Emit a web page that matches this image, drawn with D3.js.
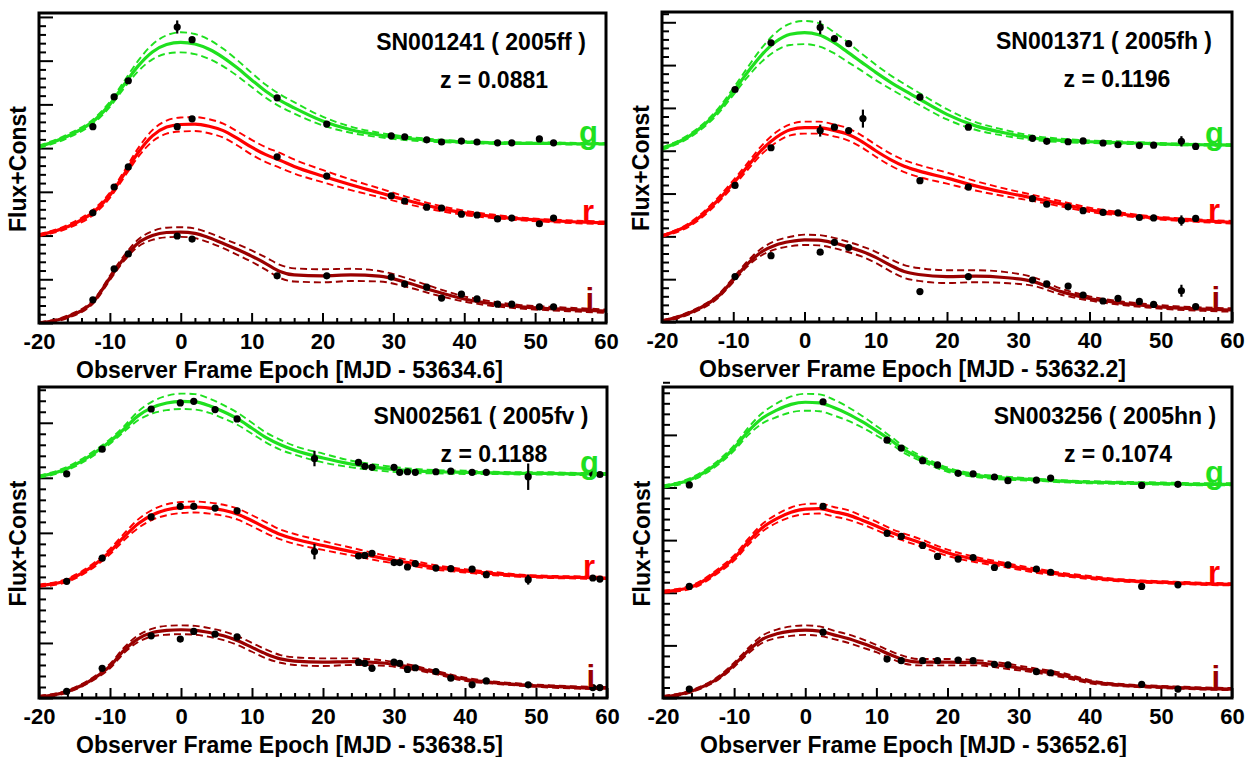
<!DOCTYPE html>
<html>
<head>
<meta charset="utf-8">
<script src="https://cdn.jsdelivr.net/npm/d3@7"></script>
<style>
  body { margin: 0; background: #fff; }
  text { font-family: "Liberation Sans", Arial, Helvetica, sans-serif; font-weight: bold; }
</style>
</head>
<body>
<div id="chart"></div>
<script>
// model curves are sampled on this grid of observer-frame days
var modelDays = [-20,-16,-12,-10,-8,-6,-4,-2,0,2,4,6,8,10,12,14,16,20,24,28,32,36,40,44,48,52,56,60];

var xMajorTicks = [-20,-10,0,10,20,30,40,50,60];

var snNames   = ["SN001241 ( 2005ff )", "SN001371 ( 2005fh )", "SN002561 ( 2005fv )", "SN003256 ( 2005hn )"];
var redshifts = ["z = 0.0881", "z = 0.1196", "z = 0.1188", "z = 0.1074"];
var mjdZero   = ["53634.6", "53632.2", "53638.5", "53652.6"];
var bandNames = ["g", "r", "i"];

// ---- SN001241 (top left)
var tlEpoch = [-12.4,-9.4,-7.4,-0.5,1.6,13.6,20.6,29.7,31.6,34.7,36.8,39.6,41.8,44.7,46.7,50.6,52.6];
var tlG     = [4.49,5.17,5.54,6.77,6.48,5.15,4.55,4.28,4.26,4.19,4.14,4.16,4.14,4.12,4.12,4.21,4.12];
var tlGErr  = [0.04,0.04,0.04,0.15,0.05,0.05,0.04,0.03,0.03,0.03,0.03,0.03,0.03,0.03,0.03,0.03,0.03];
var tlR     = [2.52,3.11,3.57,4.49,4.67,3.80,3.36,2.91,2.79,2.65,2.63,2.49,2.47,2.38,2.40,2.27,2.40];
var tlRErr  = [0.04,0.04,0.04,0.05,0.05,0.05,0.04,0.03,0.03,0.03,0.03,0.03,0.03,0.03,0.03,0.03,0.03];
var tlI     = [0.53,1.24,1.58,1.99,1.92,1.08,1.08,1.05,0.89,0.82,0.57,0.66,0.55,0.43,0.43,0.37,0.37];
var tlIErr  = [0.04,0.04,0.04,0.05,0.05,0.05,0.04,0.03,0.03,0.03,0.03,0.03,0.03,0.03,0.03,0.03,0.03];
var tlGFit  = [4.03,4.27,4.66,5.0,5.45,5.88,6.2,6.37,6.42,6.38,6.26,6.07,5.83,5.56,5.30,5.09,4.92,4.62,4.42,4.30,4.22,4.17,4.14,4.12,4.11,4.11,4.10,4.10];
var tlGBand = [0.03,0.04,0.05,0.06,0.08,0.12,0.17,0.21,0.23,0.23,0.22,0.2,0.18,0.16,0.15,0.14,0.13,0.1,0.07,0.05,0.04,0.03,0.02,0.02,0.02,0.02,0.02,0.02];
var tlRFit  = [2.01,2.2,2.58,2.92,3.4,3.9,4.28,4.48,4.54,4.55,4.5,4.4,4.22,4.02,3.85,3.72,3.58,3.36,3.16,2.98,2.8,2.64,2.52,2.44,2.38,2.34,2.31,2.29];
var tlRBand = [0.02,0.04,0.06,0.06,0.07,0.1,0.13,0.15,0.16,0.16,0.16,0.16,0.16,0.17,0.17,0.17,0.16,0.14,0.12,0.1,0.08,0.06,0.05,0.04,0.03,0.03,0.03,0.03];
var tlIFit  = [0.0,0.14,0.55,1.03,1.48,1.83,2.0,2.07,2.08,2.05,1.95,1.82,1.68,1.53,1.36,1.18,1.1,1.08,1.1,1.07,0.92,0.72,0.55,0.44,0.37,0.33,0.3,0.27];
var tlIBand = [0.02,0.03,0.04,0.05,0.06,0.08,0.1,0.11,0.11,0.11,0.11,0.11,0.12,0.13,0.14,0.15,0.15,0.15,0.14,0.12,0.1,0.08,0.06,0.05,0.04,0.04,0.04,0.04];

// ---- SN001371 (top right)
var trEpoch = [-9.75,-4.7,2.2,4.2,6.2,8.2,16.2,23.0,32.0,34.0,37.0,39.1,41.9,44.0,47.0,49.0,52.9,54.9];
var trG     = [5.43,6.52,6.88,6.62,6.50,null,5.25,4.55,4.29,4.22,4.21,4.23,4.18,4.14,4.12,4.13,4.22,4.10];
var trGErr  = [0.04,0.05,0.16,0.05,0.05,null,0.04,0.03,0.03,0.03,0.03,0.03,0.03,0.03,0.03,0.03,0.12,0.03];
var trR     = [3.19,4.07,4.47,4.55,4.47,4.75,3.30,3.15,2.88,2.75,2.69,2.60,2.56,2.55,2.44,2.43,2.37,2.42];
var trRErr  = [0.04,0.04,0.14,0.04,0.04,0.21,0.04,0.03,0.03,0.03,0.03,0.03,0.03,0.03,0.03,0.03,0.12,0.03];
var trI     = [1.06,1.55,1.63,1.86,1.74,null,0.71,1.06,0.98,0.89,0.84,0.63,0.49,0.55,0.48,0.41,0.73,0.36];
var trIErr  = [0.04,0.04,0.04,0.04,0.04,null,0.04,0.03,0.03,0.03,0.03,0.03,0.03,0.03,0.03,0.03,0.14,0.03];
var trGFit  = [4.05,4.36,4.95,5.38,5.83,6.24,6.55,6.72,6.76,6.71,6.54,6.31,6.07,5.83,5.61,5.41,5.22,4.85,4.58,4.42,4.3,4.24,4.21,4.19,4.17,4.15,4.14,4.13];
var trGBand = [0.03,0.04,0.06,0.08,0.11,0.16,0.21,0.25,0.27,0.27,0.25,0.23,0.2,0.18,0.16,0.15,0.14,0.12,0.09,0.07,0.05,0.04,0.03,0.03,0.02,0.02,0.02,0.02];
var trRFit  = [2.01,2.29,2.87,3.24,3.63,4.02,4.31,4.49,4.54,4.54,4.48,4.39,4.22,4.0,3.8,3.64,3.53,3.36,3.18,3.03,2.9,2.76,2.62,2.53,2.45,2.4,2.36,2.33];
var trRBand = [0.02,0.04,0.06,0.07,0.08,0.1,0.12,0.13,0.14,0.14,0.14,0.14,0.14,0.14,0.14,0.14,0.14,0.13,0.11,0.09,0.07,0.06,0.05,0.04,0.03,0.03,0.03,0.03];
var trIFit  = [0.02,0.22,0.62,0.98,1.36,1.64,1.8,1.88,1.92,1.91,1.85,1.76,1.65,1.51,1.33,1.18,1.11,1.06,1.07,1.04,0.95,0.71,0.55,0.45,0.38,0.33,0.3,0.28];
var trIBand = [0.02,0.03,0.04,0.05,0.06,0.08,0.1,0.11,0.12,0.12,0.12,0.12,0.12,0.13,0.14,0.15,0.15,0.15,0.14,0.13,0.1,0.07,0.05,0.04,0.04,0.04,0.04,0.04];

// ---- SN002561 (bottom left)
var blEpoch = [-16.1,-11.1,-4.2,-0.1,1.8,4.8,7.9,18.8,25.0,25.9,26.9,30.0,30.8,31.9,33.0,35.9,38.0,41.0,43.0,48.9,58.0,59.0];
var blG     = [4.07,4.52,5.25,5.36,5.39,5.24,5.07,4.35,4.28,4.21,4.19,4.19,4.10,4.11,4.10,4.11,4.12,4.10,4.10,4.02,4.07,4.06];
var blGErr  = [0.03,0.03,0.03,0.03,0.03,0.03,0.03,0.14,0.03,0.03,0.03,0.03,0.03,0.03,0.03,0.03,0.03,0.03,0.03,0.24,0.03,0.03];
var blR     = [2.12,2.54,3.29,3.48,3.48,3.45,3.40,2.66,2.58,2.59,2.63,2.46,2.46,2.38,2.44,2.36,2.35,2.34,2.24,2.15,2.18,2.16];
var blRErr  = [0.03,0.03,0.03,0.03,0.03,0.03,0.03,0.14,0.03,0.03,0.03,0.03,0.03,0.03,0.03,0.03,0.03,0.03,0.03,0.09,0.03,0.03];
var blI     = [0.12,0.54,1.13,1.07,1.21,1.16,1.11,null,0.65,0.63,0.54,0.65,0.63,0.52,0.55,0.48,0.36,0.24,0.31,0.24,0.19,0.19];
var blIErr  = [0.03,0.03,0.03,0.03,0.03,0.03,0.03,null,0.03,0.03,0.03,0.03,0.03,0.03,0.03,0.03,0.03,0.03,0.03,0.03,0.03,0.03];
var blGFit  = [4.02,4.17,4.47,4.66,4.89,5.13,5.28,5.36,5.39,5.38,5.31,5.2,5.07,4.9,4.73,4.6,4.5,4.36,4.25,4.18,4.13,4.11,4.1,4.09,4.08,4.08,4.07,4.07];
var blGBand = [0.02,0.03,0.04,0.04,0.05,0.08,0.11,0.13,0.14,0.14,0.13,0.12,0.11,0.1,0.09,0.09,0.08,0.08,0.06,0.05,0.04,0.03,0.03,0.02,0.02,0.02,0.02,0.02];
var blRFit  = [2.04,2.14,2.44,2.66,2.93,3.17,3.33,3.42,3.46,3.47,3.45,3.41,3.34,3.22,3.09,2.97,2.89,2.77,2.66,2.55,2.46,2.37,2.31,2.26,2.22,2.2,2.19,2.18];
var blRBand = [0.02,0.03,0.04,0.05,0.06,0.08,0.09,0.1,0.1,0.1,0.1,0.1,0.1,0.1,0.1,0.09,0.09,0.08,0.07,0.06,0.05,0.04,0.03,0.03,0.02,0.02,0.02,0.02];
var blIFit  = [0.02,0.12,0.38,0.58,0.87,1.08,1.19,1.23,1.24,1.23,1.19,1.13,1.04,0.92,0.8,0.71,0.67,0.65,0.66,0.64,0.57,0.46,0.34,0.28,0.24,0.21,0.19,0.18];
var blIBand = [0.02,0.02,0.03,0.04,0.05,0.06,0.07,0.08,0.08,0.08,0.08,0.08,0.08,0.08,0.08,0.07,0.07,0.07,0.06,0.05,0.04,0.03,0.03,0.02,0.02,0.02,0.02,0.02];

// ---- SN003256 (bottom right)
var brEpoch = [-16.3,2.5,11.5,13.5,16.5,18.6,21.5,23.6,26.6,28.5,32.5,34.5,47.3,52.4];
var brG     = [4.05,5.63,4.90,4.75,4.51,4.43,4.27,4.26,4.20,4.13,4.14,4.18,4.04,4.06];
var brGErr  = [0.03,0.03,0.03,0.03,0.03,0.03,0.03,0.03,0.03,0.03,0.03,0.03,0.03,0.03];
var brR     = [2.12,3.64,3.13,3.07,2.90,2.69,2.64,2.67,2.48,2.53,2.45,2.39,2.12,2.15];
var brRErr  = [0.03,0.03,0.03,0.03,0.03,0.03,0.03,0.03,0.03,0.03,0.03,0.03,0.03,0.03];
var brI     = [0.17,1.25,0.74,0.71,0.71,0.71,0.72,0.71,0.64,0.63,0.50,0.48,0.26,0.17];
var brIErr  = [0.03,0.03,0.03,0.03,0.03,0.03,0.03,0.03,0.03,0.03,0.03,0.03,0.03,0.03];
var brGFit  = [4.02,4.16,4.5,4.75,5.07,5.32,5.47,5.58,5.62,5.61,5.52,5.4,5.25,5.08,4.9,4.71,4.57,4.34,4.23,4.18,4.15,4.12,4.1,4.09,4.08,4.07,4.06,4.06];
var brGBand = [0.02,0.03,0.04,0.05,0.07,0.1,0.13,0.15,0.16,0.16,0.15,0.13,0.11,0.09,0.07,0.06,0.05,0.04,0.03,0.03,0.02,0.02,0.02,0.02,0.02,0.02,0.02,0.02];
var brRFit  = [2.02,2.11,2.44,2.66,2.97,3.24,3.41,3.53,3.59,3.6,3.54,3.48,3.38,3.27,3.15,3.05,2.96,2.76,2.63,2.53,2.43,2.35,2.29,2.24,2.21,2.19,2.17,2.16];
var brRBand = [0.02,0.03,0.04,0.05,0.06,0.07,0.08,0.09,0.095,0.095,0.09,0.09,0.08,0.08,0.07,0.07,0.07,0.06,0.05,0.04,0.04,0.03,0.03,0.02,0.02,0.02,0.02,0.02];
var brIFit  = [0.02,0.13,0.4,0.63,0.9,1.12,1.22,1.27,1.29,1.27,1.2,1.13,1.04,0.94,0.82,0.72,0.68,0.68,0.67,0.61,0.53,0.44,0.31,0.25,0.22,0.2,0.18,0.17];
var brIBand = [0.02,0.02,0.03,0.04,0.05,0.07,0.08,0.09,0.09,0.09,0.08,0.08,0.08,0.07,0.07,0.07,0.06,0.06,0.05,0.05,0.04,0.04,0.03,0.02,0.02,0.02,0.02,0.02];

// colours and label nudges per band (g, r, i)
var bandColor  = ["#1fe01f", "#ff0000", "#990000"];
var labelRight = [8, 12, 12];

// pixel frame of each pad, and the top of its y range
var pads = [
  {x0: 39,  x1: 606,  y0: 13,  y1: 323, ymax: 7.09},
  {x0: 662, x1: 1232, y0: 12,  y1: 322, ymax: 7.24},
  {x0: 39,  x1: 607,  y0: 387, y1: 698, ymax: 5.65},
  {x0: 663, x1: 1232, y0: 387, y1: 698, ymax: 5.91}
];

var obs = [
  {t: tlEpoch, v: [tlG, tlR, tlI], e: [tlGErr, tlRErr, tlIErr],
   fit: [tlGFit, tlRFit, tlIFit], band: [tlGBand, tlRBand, tlIBand]},
  {t: trEpoch, v: [trG, trR, trI], e: [trGErr, trRErr, trIErr],
   fit: [trGFit, trRFit, trIFit], band: [trGBand, trRBand, trIBand]},
  {t: blEpoch, v: [blG, blR, blI], e: [blGErr, blRErr, blIErr],
   fit: [blGFit, blRFit, blIFit], band: [blGBand, blRBand, blIBand]},
  {t: brEpoch, v: [brG, brR, brI], e: [brGErr, brRErr, brIErr],
   fit: [brGFit, brRFit, brIFit], band: [brGBand, brRBand, brIBand]}
];

var svg = d3.select("#chart").append("svg")
    .attr("width", 1248)
    .attr("height", 757)
    .style("background", "#fff");

function range(a, b, step) {
    return d3.range(a, b + step / 2, step).map(function(v) { return Math.round(v * 100) / 100; });
}

function drawPad(k) {
    var p = pads[k], d = obs[k];
    var x = d3.scaleLinear().domain([-20, 60]).range([p.x0, p.x1]);
    var y = d3.scaleLinear().domain([0, p.ymax]).range([p.y1, p.y0]);

    var g = svg.append("g");

    g.append("clipPath").attr("id", "clip" + k)
      .append("rect")
	.attr("x", p.x0).attr("y", p.y0)
	.attr("width", p.x1 - p.x0).attr("height", p.y1 - p.y0);

    // ticks point inward, no labels on y
    var yMajor = range(0, Math.floor(p.ymax), 1);
    var yMinor = range(0, p.ymax, 0.2).filter(function(v) { return yMajor.indexOf(v) < 0; });
    var xMinor = range(-20, 60, 2).filter(function(v) { return xMajorTicks.indexOf(v) < 0; });

    var axes = g.append("g").attr("class", "axes");
    axes.append("g").attr("transform", "translate(" + p.x0 + ",0)")
	.call(d3.axisLeft(y).tickValues(yMajor).tickSize(-14).tickFormat(""));
    axes.append("g").attr("transform", "translate(" + p.x0 + ",0)")
	.call(d3.axisLeft(y).tickValues(yMinor).tickSize(-7).tickFormat(""));
    axes.append("g").attr("transform", "translate(0," + p.y1 + ")")
	.call(d3.axisBottom(x).tickValues(xMinor).tickSize(-5).tickFormat(""));
    // plain hyphen for negatives, like the original
    var xa = axes.append("g").attr("transform", "translate(0," + p.y1 + ")")
	.call(d3.axisBottom(x).tickValues(xMajorTicks).tickSize(-10).tickPadding(10)
	      .tickFormat(function(v) { return String(v); }));
    xa.selectAll("text").attr("font-size", 22).attr("fill", "#000")
	.style("font-family", "'Liberation Sans', Arial, sans-serif").style("font-weight", "bold");
    axes.selectAll(".domain").remove();
    axes.selectAll(".tick line").attr("stroke", "#000").attr("stroke-width", 2);

    // fitted light curves with their dashed error envelopes
    var curves = g.append("g").attr("clip-path", "url(#clip" + k + ")");
    var line = d3.line()
	.x(function(q) { return x(q[0]); })
	.y(function(q) { return y(q[1]); })
	.curve(d3.curveMonotoneX);

    for (var b = 0; b < 3; b++) {
	var fit = d.fit[b], band = d.band[b];
	var mid = modelDays.map(function(t, i) { return [t, fit[i]]; });
	var hi  = modelDays.map(function(t, i) { return [t, fit[i] + band[i]]; });
	var lo  = modelDays.map(function(t, i) { return [t, fit[i] - band[i]]; });
	[hi, lo].forEach(function(pts) {
	    curves.append("path").attr("d", line(pts))
		.attr("fill", "none").attr("stroke", bandColor[b])
		.attr("stroke-width", 1.9).attr("stroke-dasharray", "7,4");
	});
	curves.append("path").attr("d", line(mid))
	    .attr("fill", "none").attr("stroke", bandColor[b]).attr("stroke-width", 3.2);
    }

    // measurements
    for (var b2 = 0; b2 < 3; b2++) {
	var pts = d.t.map(function(t, i) { return {t: t, v: d.v[b2][i], e: d.e[b2][i]}; })
	    .filter(function(q) { return q.v !== null; });
	var m = g.append("g");
	m.selectAll("line").data(pts).enter().append("line")
	    .attr("x1", function(q) { return x(q.t); })
	    .attr("x2", function(q) { return x(q.t); })
	    .attr("y1", function(q) { return y(q.v - q.e); })
	    .attr("y2", function(q) { return y(q.v + q.e); })
	    .attr("stroke", "#000").attr("stroke-width", 2.2);
	m.selectAll("circle").data(pts).enter().append("circle")
	    .attr("cx", function(q) { return x(q.t); })
	    .attr("cy", function(q) { return y(q.v); })
	    .attr("r", 3.6).attr("fill", "#000");

	var last = d.fit[b2][d.fit[b2].length - 1];
	g.append("text")
	    .attr("x", p.x1 - labelRight[b2]).attr("y", y(last) - 1)
	    .attr("text-anchor", "end").attr("font-size", 31)
	    .attr("fill", bandColor[b2]).text(bandNames[b2]);
    }

    // frame
    g.append("rect")
	.attr("x", p.x0).attr("y", p.y0)
	.attr("width", p.x1 - p.x0).attr("height", p.y1 - p.y0)
	.attr("fill", "none").attr("stroke", "#000").attr("stroke-width", 3);

    g.append("text").attr("x", p.x0 + 442).attr("y", p.y0 + 37)
	.attr("text-anchor", "middle").attr("font-size", 23).text(snNames[k]);
    g.append("text").attr("x", p.x0 + 455).attr("y", p.y0 + 75)
	.attr("text-anchor", "middle").attr("font-size", 23).text(redshifts[k]);

    g.append("text").attr("x", p.x0 + 37).attr("y", p.y1 + 55)
	.attr("font-size", 23)
	.text("Observer Frame Epoch [MJD - " + mjdZero[k] + "]");

    var cy = (p.y0 + p.y1) / 2 + 1;
    g.append("text")
	.attr("transform", "translate(" + (p.x0 - 13) + "," + cy + ") rotate(-90)")
	.attr("text-anchor", "middle").attr("font-size", 23)
	.text("Flux+Const");
}

for (var k = 0; k < 4; k++) drawPad(k);
</script>
</body>
</html>
